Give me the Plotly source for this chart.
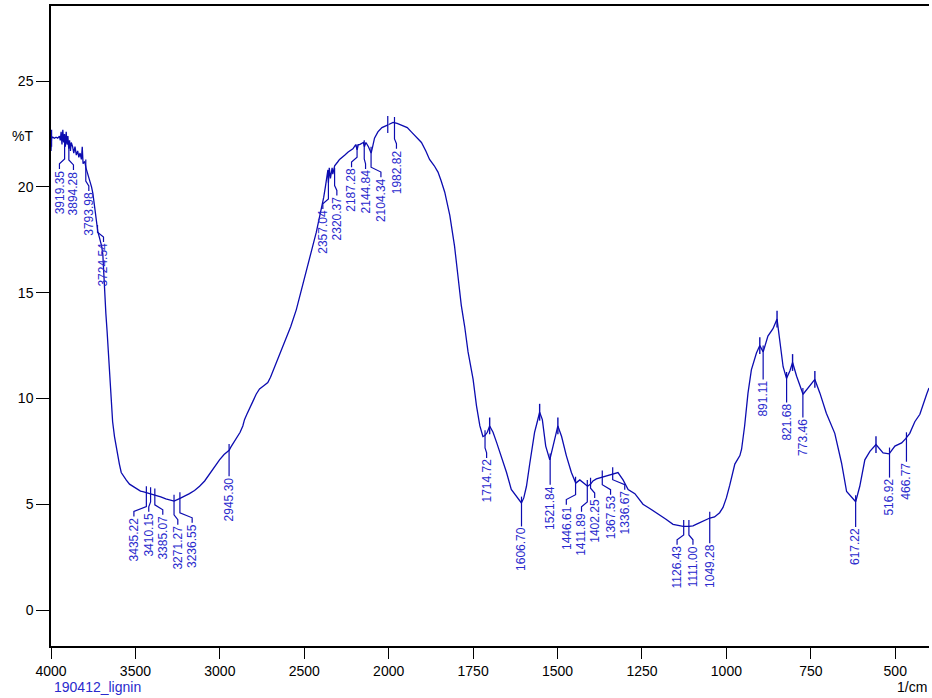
import numpy as np
import plotly.graph_objects as go

# ---------------- data ----------------
wavenumber = [4000, 3997, 3990, 3980, 3970, 3960, 3950, 3945, 3940, 3935, 3930, 3925, 3920, 3915,
              3910, 3905, 3900, 3895, 3890, 3885, 3880, 3872, 3865, 3858, 3850, 3842, 3835, 3828,
              3820, 3815, 3810, 3800, 3793, 3785, 3772, 3760, 3752, 3745, 3740, 3735, 3730, 3723,
              3713, 3700, 3693, 3688, 3683, 3675, 3668, 3664, 3660, 3653, 3643, 3635, 3624, 3614,
              3604, 3595, 3584, 3570, 3555, 3535, 3515, 3490, 3470, 3456, 3435, 3410, 3385, 3350,
              3320, 3298, 3271, 3239, 3210, 3180, 3150, 3120, 3090, 3060, 3030, 3002, 2975, 2953,
              2945, 2935, 2920, 2903, 2880, 2864, 2854, 2840, 2824, 2805, 2785, 2765, 2740, 2716,
              2700, 2680, 2666, 2640, 2607, 2580, 2547, 2525, 2508, 2490, 2469, 2450, 2429, 2410,
              2399, 2385, 2375, 2370, 2360, 2357, 2352, 2345, 2335, 2331, 2320, 2300, 2291, 2261,
              2240, 2212, 2195, 2187, 2180, 2172, 2150, 2144, 2135, 2120, 2104, 2095, 2084, 2064,
              2040, 2014, 2000, 1987, 1975, 1958, 1945, 1933, 1918, 1903, 1890, 1879, 1865, 1854,
              1845, 1834, 1819, 1805, 1795, 1785, 1775, 1765, 1750, 1740, 1730, 1721, 1715, 1708,
              1701, 1691, 1680, 1671, 1660, 1651, 1637, 1622, 1607, 1600, 1592, 1582, 1568, 1560,
              1553, 1545, 1535, 1523, 1513, 1505, 1499, 1488, 1474, 1459, 1446, 1434, 1424, 1411,
              1402, 1395, 1385, 1375, 1365, 1345, 1336, 1321, 1306, 1291, 1271, 1247, 1227, 1207,
              1180, 1158, 1140, 1128, 1111, 1099, 1085, 1069, 1049, 1035, 1020, 1010, 1000, 990,
              975, 960, 955, 946, 936, 926, 911, 901, 891, 877, 862, 850, 842, 832, 822, 812, 804,
              792, 773, 753, 738, 723, 704, 679, 659, 644, 629, 617, 605, 590, 575, 557, 536, 518,
              501, 481, 469, 457, 442, 427, 407, 400]
transmittance = [21.7, 22.3, 22.35, 22.3, 22.35, 22.3, 22.4, 22.2, 22.6, 22.0, 22.7, 22.1, 22.5, 21.9,
                 22.6, 22.0, 22.4, 21.8, 22.2, 21.7, 22.1, 21.9, 21.6, 21.9, 21.5, 21.7, 21.4, 21.6,
                 21.3, 21.9, 21.1, 21.2, 20.9, 20.7, 20.4, 20.0, 19.7, 19.3, 19.0, 18.6, 18.3, 17.9,
                 17.6, 17.2, 16.8, 15.8, 15.2, 14.0, 13.2, 12.7, 12.0, 10.9, 9.6, 8.9, 8.2, 7.7,
                 7.3, 6.9, 6.5, 6.3, 6.15, 5.95, 5.85, 5.7, 5.62, 5.6, 5.55, 5.5, 5.45, 5.35,
                 5.25, 5.2, 5.15, 5.27, 5.37, 5.5, 5.65, 5.85, 6.1, 6.45, 6.8, 7.1, 7.35, 7.5,
                 7.55, 7.7, 7.9, 8.15, 8.4, 8.7, 9.0, 9.25, 9.5, 9.85, 10.2, 10.45, 10.6, 10.75,
                 11.0, 11.4, 11.7, 12.2, 12.8, 13.4, 14.2, 14.9, 15.5, 16.0, 16.6, 17.2, 17.85, 18.5,
                 18.95, 19.5, 20.0, 20.3, 20.8, 20.2, 20.9, 20.4, 20.9, 20.6, 21.0, 21.2, 21.3, 21.5,
                 21.65, 21.8, 22.0, 21.75, 22.0, 22.0, 22.1, 21.9, 22.1, 21.9, 21.6, 21.9, 22.3, 22.6,
                 22.8, 22.9, 22.95, 23.05, 23.0, 22.9, 22.8, 22.6, 22.35, 22.1, 21.7, 21.3, 21.0, 20.7,
                 20.3, 19.75, 18.65, 17.2, 15.8, 14.4, 13.4, 12.2, 10.9, 9.65, 8.7, 8.2, 8.25, 8.4,
                 8.7, 8.4, 7.9, 7.45, 7.0, 6.5, 5.7, 5.4, 5.06, 5.3, 5.85, 6.95, 8.4, 8.9,
                 9.35, 9.0, 7.75, 7.1, 7.75, 8.3, 8.7, 8.2, 7.3, 6.5, 6.0, 6.15, 6.0, 5.85,
                 5.95, 6.1, 6.2, 6.25, 6.3, 6.4, 6.45, 6.5, 6.15, 5.7, 5.5, 5.0, 4.8, 4.6,
                 4.3, 4.05, 3.97, 3.95, 3.95, 3.98, 4.08, 4.2, 4.35, 4.4, 4.6, 4.85, 5.3, 5.9,
                 6.9, 7.3, 7.6, 8.7, 10.25, 11.35, 12.15, 12.5, 12.2, 12.95, 13.3, 13.75, 12.8, 11.5, 10.95, 11.3, 11.7,
                 11.05, 10.2, 10.6, 10.9, 10.25, 9.3, 8.35, 6.95, 5.6, 5.35, 5.12, 5.85, 7.1, 7.5, 7.82, 7.43, 7.38,
                 7.75, 7.9, 8.1, 8.35, 8.9, 9.25, 10.2, 10.5]

peak_labels = ["3919.35", "3894.28", "3793.98", "3724.54", "3435.22", "3410.15", "3385.07",
               "3271.27", "3236.55", "2945.30", "2357.04", "2320.37", "2187.28", "2144.84",
               "2104.34", "1982.82", "1714.72", "1606.70", "1521.84", "1446.61", "1411.89",
               "1402.25", "1367.53", "1336.67", "1126.43", "1111.00", "1049.28", "891.11",
               "821.68", "773.46", "617.22", "516.92", "466.77"]
peak_wn = [3919.35, 3894.28, 3793.98, 3724.54, 3435.22, 3410.15, 3385.07, 3271.27, 3236.55,
           2945.30, 2357.04, 2320.37, 2187.28, 2144.84, 2104.34, 1982.82, 1714.72, 1606.70,
           1521.84, 1446.61, 1411.89, 1402.25, 1367.53, 1336.67, 1126.43, 1111.00, 1049.28,
           891.11, 821.68, 773.46, 617.22, 516.92, 466.77]
peak_T = [21.9, 21.8, 21.0, 17.9, 5.55, 5.5, 5.45, 5.15, 5.27, 7.55, 20.2, 20.6, 21.7, 21.9,
          21.6, 23.0, 8.2, 5.06, 7.1, 6.0, 5.85, 5.95, 6.3, 6.45, 3.95, 3.95, 4.35, 12.2, 10.95,
          10.2, 5.12, 7.38, 8.1]

# extra peak tick marks on the trace (unlabelled)
tick_wn = [3997, 2005, 1701, 1553, 1499, 901, 850, 804, 738, 557]
tick_T = [22.3, 22.95, 8.7, 9.35, 8.7, 12.5, 13.75, 11.7, 10.9, 7.82]

# ---------------- label placement (layout) ----------------
label_wn = [3950, 3867, 3776, 3689, 3509, 3421, 3338, 3249, 3164, 2945.30, 2390, 2307, 2220,
            2137, 2046, 1977, 1710, 1606.70, 1521.84, 1474, 1429, 1390, 1343, 1301, 1146, 1099,
            1049.28, 891.11, 821.68, 773.46, 617.22, 516.92, 466.77]
label_top = [20.85, 20.8, 19.81, 17.39, 4.42, 4.64, 4.5, 4.03, 4.12, 6.32, 18.96, 19.59, 20.93,
             20.85, 20.46, 21.8, 7.19, 3.95, 5.92, 4.98, 4.64, 5.29, 5.45, 5.69, 3.08, 3.08, 3.16,
             10.9, 9.81, 9.1, 3.93, 6.26, 7.01]

LINE = "#0c0cb0"
TEXT = "#2a2acd"
FONT = "Liberation Sans, Arial, sans-serif"
SPLIT = 2000

wn = np.array(wavenumber, dtype=float)
T = np.array(transmittance, dtype=float)

fig = go.Figure()
for mask, xa in ((wn >= SPLIT, "x"), (wn <= SPLIT, "x2")):
    fig.add_trace(go.Scatter(x=wn[mask], y=T[mask], xaxis=xa, yaxis="y", mode="lines",
                             line=dict(color=LINE, width=1.3), hoverinfo="skip",
                             showlegend=False))

# leader lines
seg = {"x": ([], []), "x2": ([], [])}
for pw, pt, lw, lt in zip(peak_wn, peak_T, label_wn, label_top):
    xa = "x" if pw >= SPLIT else "x2"
    xs, ys = seg[xa]
    xs += [pw, pw, lw, lw, None]
    ys += [pt + 0.3, lt + 0.47, lt + 0.24, lt, None]
for xa, (xs, ys) in seg.items():
    fig.add_trace(go.Scatter(x=xs, y=ys, xaxis=xa, yaxis="y", mode="lines",
                             line=dict(color=LINE, width=1.2), hoverinfo="skip",
                             showlegend=False))

# unlabelled ticks
tw = np.array(tick_wn, dtype=float)
tt = np.array(tick_T, dtype=float)
for mask, xa in ((tw >= SPLIT, "x"), (tw < SPLIT, "x2")):
    fig.add_trace(go.Scatter(x=tw[mask], y=tt[mask], xaxis=xa, yaxis="y", mode="markers",
                             marker=dict(symbol="line-ns", size=12,
                                         line=dict(color=LINE, width=1.4)),
                             hoverinfo="skip", showlegend=False))

annotations = []
for txt, lw, lt in zip(peak_labels, label_wn, label_top):
    xa = "x" if lw >= SPLIT else "x2"
    annotations.append(dict(text=txt, x=lw, y=lt, xref=xa, yref="y", textangle=-90,
                            xanchor="center", yanchor="top", showarrow=False,
                            font=dict(family=FONT, size=12, color=TEXT), borderpad=0))

annotations += [
    dict(text="%T", x=-0.047, y=22.4, xref="paper", yref="y", xanchor="left",
         yanchor="middle", showarrow=False, font=dict(family=FONT, size=14, color="black")),
    dict(text="190412_lignin", x=0.001, y=-0.064, xref="paper", yref="paper", xanchor="left",
         yanchor="middle", showarrow=False, font=dict(family=FONT, size=14, color=TEXT)),
    dict(text="1/cm", x=1.0, y=-0.064, xref="paper", yref="paper", xanchor="right",
         yanchor="middle", showarrow=False, font=dict(family=FONT, size=14, color="black")),
]

axis_style = dict(showline=True, linecolor="black", linewidth=1.5, mirror=True, ticks="outside",
                  ticklen=11, tickwidth=1.2, tickcolor="black", showgrid=False, zeroline=False,
                  tickfont=dict(family=FONT, size=14, color="black"), anchor="y")
d = 2000 / (2000 + 1600 * 2)

fig.update_layout(
    width=932, height=698,
    margin=dict(l=51, r=3, t=6, b=52),
    paper_bgcolor="white", plot_bgcolor="white",
    xaxis=dict(domain=[0, d], range=[4000, 2000], tickvals=[4000, 3500, 3000, 2500],
               **axis_style),
    xaxis2=dict(domain=[d, 1], range=[2000, 400],
                tickvals=[2000, 1750, 1500, 1250, 1000, 750, 500], **axis_style),
    yaxis=dict(range=[-1.7, 28.55], tickvals=[0, 5, 10, 15, 20, 25], showline=True,
               linecolor="black", linewidth=1.5, ticks="outside", ticklen=13, tickwidth=1.2,
               tickcolor="black", showgrid=False, zeroline=False, anchor="x",
               tickfont=dict(family=FONT, size=14, color="black")),
    annotations=annotations,
    showlegend=False,
)

fig.write_html("out.html", config={"displayModeBar": False},
               post_script="document.body.style.margin='0px';document.body.style.overflow='hidden';")
